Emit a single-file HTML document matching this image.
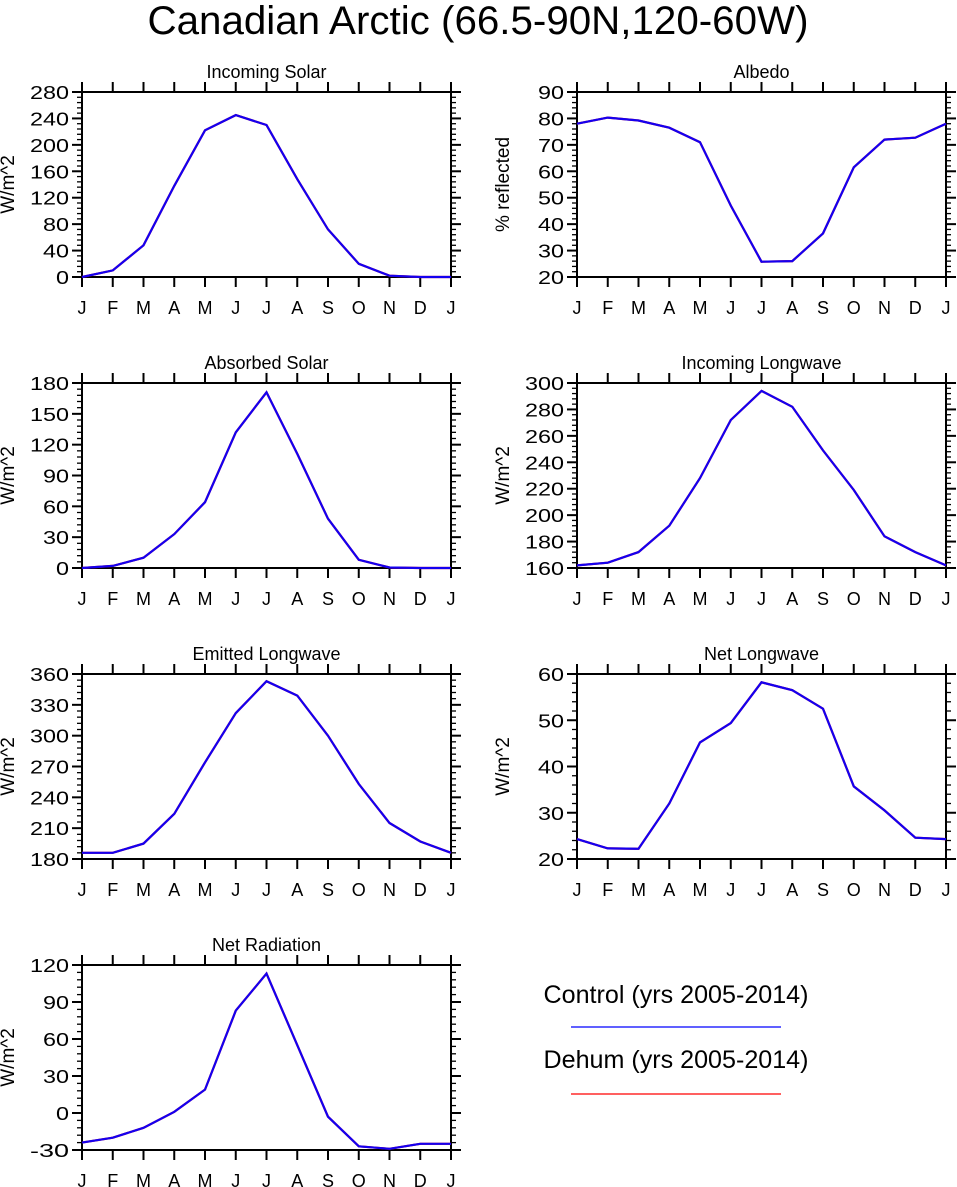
<!DOCTYPE html>
<html><head><meta charset="utf-8"><style>
body{margin:0;background:#fff;}
svg{display:block;font-family:"Liberation Sans",sans-serif;}
</style></head><body>
<svg id="c" width="957" height="1187" xmlns="http://www.w3.org/2000/svg">
<text x="478" y="34" font-size="40" text-anchor="middle" textLength="661" lengthAdjust="spacingAndGlyphs">Canadian Arctic (66.5-90N,120-60W)</text>
<g>
<text x="676" y="1003" font-size="25" text-anchor="middle" textLength="265" lengthAdjust="spacingAndGlyphs">Control (yrs 2005-2014)</text>
<line x1="571" y1="1027" x2="781" y2="1027" stroke="#0000ff" stroke-width="1.2"/>
<text x="676" y="1068" font-size="25" text-anchor="middle" textLength="265" lengthAdjust="spacingAndGlyphs">Dehum (yrs 2005-2014)</text>
<line x1="571" y1="1094" x2="781" y2="1094" stroke="#ff0000" stroke-width="1.2"/>
</g>
</svg>
<script>
const months = ["J","F","M","A","M","J","J","A","S","O","N","D","J"];
const titles = ["Incoming Solar","Albedo","Absorbed Solar","Incoming Longwave","Emitted Longwave","Net Longwave","Net Radiation"];
const yLabels = ["W/m^2","% reflected","W/m^2","W/m^2","W/m^2","W/m^2","W/m^2"];
const incomingSolar = [0,10,48,138,222,245,230,148,72,20,2,0,0];
const albedo = [78,80.3,79.2,76.5,71,47,25.8,26,36.5,61.5,72,72.7,78];
const absorbedSolar = [0,2,10,33,64,132,171,111,48,8,0.5,0,0];
const incomingLW = [162,164,172,192,228,272,294,282,249,219,184,172,162];
const emittedLW = [186,186,195,224,274,322,353,339,300,253,215,197,186];
const netLW = [24.3,22.3,22.2,32,45.2,49.4,58.2,56.5,52.5,35.7,30.5,24.6,24.3];
const netRad = [-24,-20,-12,1,19,83,113,55,-3,-27,-29,-25,-25];
const yMin = [0,20,0,160,180,20,-30];
const yMax = [280,90,180,300,360,60,120];
const yStep = [40,10,30,20,30,10,30];
const series = [incomingSolar,albedo,absorbedSolar,incomingLW,emittedLW,netLW,netRad];
const keys = ["incoming-solar","albedo","absorbed-solar","incoming-longwave","emitted-longwave","net-longwave","net-radiation"];

const NS="http://www.w3.org/2000/svg";
const svg=document.getElementById('c');
function mk(tag,attrs,parent){const e=document.createElementNS(NS,tag);for(const k in attrs)e.setAttribute(k,attrs[k]);parent.appendChild(e);return e;}
const L=[82,577],W=369,T=[92,383,674,965],H=185;
for(let p=0;p<7;p++){
  const x0=L[p%2],y0=T[Math.floor(p/2)];
  const g=mk('g',{},svg);
  
  
  const sx=i=>x0+i*W/12;
  const sy=v=>y0+H-(v-yMin[p])/(yMax[p]-yMin[p])*H;
  const t=mk('text',{x:x0+W/2,y:y0-14,'font-size':18,'text-anchor':'middle'},g);
  
  
  t.textContent=titles[p];
  const yl=mk('text',{x:0,y:0,'font-size':19,'text-anchor':'middle',transform:`translate(${x0-68},${y0+H/2}) rotate(-90)`},g);
  
  
  yl.textContent=yLabels[p];
  for(let i=0;i<13;i++){
    const X=sx(i);
    mk('line',{x1:X,y1:y0-10,x2:X,y2:y0,stroke:'#000','stroke-width':2},g);
    mk('line',{x1:X,y1:y0+H,x2:X,y2:y0+H+10,stroke:'#000','stroke-width':2},g);
    const lt=mk('text',{x:X,y:y0+H+37,'font-size':18,'text-anchor':'middle'},g);
    
    
    lt.textContent=months[i];
  }
  const st=yStep[p],minor=st/5;
  for(let v=yMin[p];v<=yMax[p]+1e-9;v+=minor){
    const Y=sy(v);const maj=Math.abs(((v-yMin[p])/st)-Math.round((v-yMin[p])/st))<1e-6;
    const len=maj?10:5;
    mk('line',{x1:x0-len,y1:Y,x2:x0,y2:Y,stroke:'#000','stroke-width':maj?2:1.3},g);
    mk('line',{x1:x0+W,y1:Y,x2:x0+W+len,y2:Y,stroke:'#000','stroke-width':maj?2:1.3},g);
    if(maj){const s=String(Math.round(v));
      const lt=mk('text',{x:x0-13,y:Y+7,'font-size':18,'text-anchor':'end',textLength:s.length*13,lengthAdjust:'spacingAndGlyphs'},g);
      
      
      lt.textContent=s;}
  }
  const fr=mk('rect',{x:x0,y:y0,width:W,height:H,fill:'none',stroke:'#000','stroke-width':2},g);
  
  
  const pts=series[p].map((v,i)=>sx(i).toFixed(1)+','+sy(v).toFixed(1)).join(' ');
  const r=mk('polyline',{points:pts,fill:'none',stroke:'#ff0000','stroke-width':2.2},g);
  
  
  const b=mk('polyline',{points:pts,fill:'none',stroke:'#1400f0','stroke-width':2.2},g);
  
  
}
</script>
</body></html>
